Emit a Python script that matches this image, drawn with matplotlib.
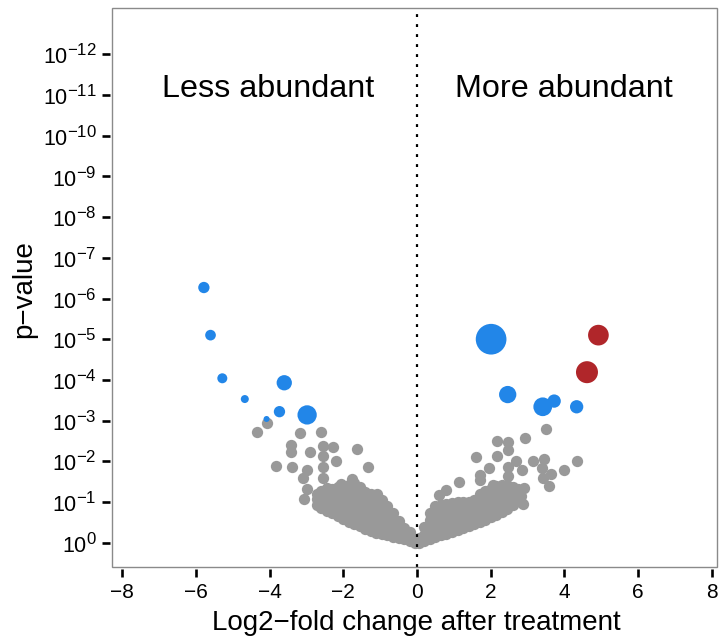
import numpy as np
import matplotlib
matplotlib.use("Agg")
import matplotlib.pyplot as plt
from matplotlib.patches import Rectangle
import matplotlib._mathtext as _mt

_mt.SHRINK_FACTOR = 0.78

plt.rcParams['font.family'] = ['Liberation Sans', 'DejaVu Sans']
plt.rcParams['mathtext.fontset'] = 'custom'
plt.rcParams['mathtext.rm'] = 'Liberation Sans'
plt.rcParams['mathtext.it'] = 'Liberation Sans:italic'
plt.rcParams['mathtext.bf'] = 'Liberation Sans:bold'
plt.rcParams['axes.unicode_minus'] = True

# ---------------- data ----------------
# -log10(p); log2 fold change on x
# dense core of non-significant genes, read column by column
left_core_lfc = [-0.05, -0.2, -0.35, -0.5, -0.65, -0.8, -0.95, -1.1, -1.25, -1.4,
                 -1.55, -1.7, -1.85, -2.0, -2.15, -2.3, -2.45, -2.6, -2.72]
left_core_nlp = [
    [0.0, 0.1],
    [0.05, 0.16, 0.26],
    [0.08, 0.22, 0.36],
    [0.12, 0.26, 0.40, 0.53],
    [0.15, 0.30, 0.45, 0.60, 0.72],
    [0.18, 0.33, 0.48, 0.63, 0.78, 0.91],
    [0.21, 0.36, 0.51, 0.66, 0.81, 0.96, 1.05],
    [0.25, 0.40, 0.55, 0.70, 0.85, 1.00, 1.14],
    [0.29, 0.44, 0.59, 0.74, 0.89, 1.04, 1.19],
    [0.34, 0.49, 0.64, 0.79, 0.94, 1.09, 1.24],
    [0.40, 0.55, 0.70, 0.85, 1.00, 1.15, 1.30],
    [0.46, 0.61, 0.76, 0.91, 1.06, 1.21, 1.36, 1.46],
    [0.52, 0.67, 0.82, 0.97, 1.12, 1.27, 1.42],
    [0.58, 0.73, 0.88, 1.03, 1.18, 1.33],
    [0.65, 0.80, 0.95, 1.10, 1.25, 1.38],
    [0.72, 0.87, 1.02, 1.17, 1.32],
    [0.79, 0.94, 1.09, 1.24, 1.34],
    [0.86, 1.01, 1.16, 1.28],
    [0.93, 1.07, 1.20],
]
right_core_lfc = [0.05, 0.2, 0.35, 0.5, 0.65, 0.8, 0.95, 1.1, 1.25, 1.4,
                  1.55, 1.7, 1.85, 2.0, 2.15, 2.3, 2.45, 2.6, 2.75]
right_core_nlp = [
    [0.0, 0.12],
    [0.05, 0.20, 0.38],
    [0.10, 0.25, 0.40, 0.55, 0.72],
    [0.14, 0.29, 0.44, 0.59, 0.74, 0.90],
    [0.18, 0.33, 0.48, 0.63, 0.78, 0.93],
    [0.22, 0.37, 0.52, 0.67, 0.82, 0.96],
    [0.26, 0.41, 0.56, 0.71, 0.86, 0.98],
    [0.31, 0.46, 0.61, 0.76, 0.91, 1.00],
    [0.36, 0.51, 0.66, 0.81, 0.96, 1.01],
    [0.41, 0.56, 0.71, 0.86, 1.00],
    [0.46, 0.61, 0.76, 0.91, 1.06],
    [0.51, 0.66, 0.81, 0.96, 1.11, 1.20],
    [0.57, 0.72, 0.87, 1.02, 1.17, 1.28],
    [0.63, 0.78, 0.93, 1.08, 1.23, 1.33],
    [0.69, 0.84, 0.99, 1.14, 1.29, 1.39],
    [0.76, 0.91, 1.06, 1.21, 1.36, 1.42],
    [0.84, 0.99, 1.14, 1.29, 1.41],
    [0.92, 1.07, 1.22, 1.37],
    [1.02, 1.17, 1.31],
]
# scattered non-significant genes
gray_out_lfc = [-4.08, -4.33, -3.16, -2.60, -3.43, -3.43, -2.91, -2.56, -2.28, -1.64,
                -2.56, -2.21, -3.82, -3.38, -2.98, -2.56, -2.56, -3.09, -1.32, -1.76,
                -2.06, -2.98, -3.06, -1.09, -1.54,
                3.49, 2.92, 2.17, 2.48, 2.48, 1.61, 2.17, 2.69, 3.14, 3.45,
                4.35, 1.95, 2.48, 2.84, 3.39, 4.00, 3.64, 1.70, 1.70, 2.48,
                3.41, 3.59, 1.14, 0.80, 0.60, 2.91, 2.83, 2.87, 2.06]
gray_out_nlp = [2.95, 2.72, 2.69, 2.72, 2.40, 2.24, 2.24, 2.37, 2.34, 2.30,
                2.13, 2.00, 1.89, 1.85, 1.79, 1.87, 1.59, 1.59, 1.85, 1.57,
                1.44, 1.33, 1.07, 1.20, 1.38,
                2.79, 2.58, 2.51, 2.47, 2.29, 2.10, 2.14, 2.00, 2.00, 2.05,
                2.02, 1.83, 1.87, 1.79, 1.83, 1.79, 1.69, 1.67, 1.55, 1.63,
                1.59, 1.40, 1.48, 1.30, 1.18, 1.34, 1.14, 0.96, 1.42]

# significant genes
blue_lfc = [-5.78, -5.60, -5.28, -4.67, -3.60, -3.73, -2.98, -4.08,
            2.01, 2.46, 3.41, 3.72, 4.33]
blue_nlp = [6.27, 5.10, 4.04, 3.53, 3.93, 3.22, 3.14, 3.04,
            5.00, 3.64, 3.34, 3.48, 3.34]
blue_count = [128, 114, 100, 64, 234, 128, 372, 36,
              942, 299, 350, 177, 177]
red_lfc = [4.92, 4.61]
red_nlp = [5.10, 4.19]
red_count = [428, 484]

yticks_exp = list(range(0, 13))
xticks = [-8, -6, -4, -2, 0, 2, 4, 6, 8]
label_left = "Less abundant"
label_right = "More abundant"

# ---------------- build ----------------
gray_x, gray_y = [], []
for x, col in zip(left_core_lfc, left_core_nlp):
    gray_x += [x] * len(col); gray_y += col
for x, col in zip(right_core_lfc, right_core_nlp):
    gray_x += [x] * len(col); gray_y += col
gray_x += gray_out_lfc; gray_y += gray_out_nlp
gray_x = np.array(gray_x); gray_p = 10.0 ** (-np.array(gray_y))

px2 = 0.72 ** 2  # pixel diameter^2 -> points^2 at 100 dpi

fig = plt.figure(figsize=(7.19, 6.41), dpi=100)
ax = fig.add_axes([111.7 / 719, 1 - 566.7 / 641, (717.5 - 111.7) / 719, (566.7 - 8.3) / 641])

ax.set_yscale('log')
ax.set_xlim(-8.28, 8.15)
ax.set_ylim(10 ** 0.589, 10 ** -13.13)

ax.scatter(gray_x, gray_p, s=11.3 ** 2 * px2, c='#999999', linewidths=0, zorder=3)
ax.scatter(blue_lfc, 10.0 ** (-np.array(blue_nlp)), s=np.array(blue_count) * px2,
           c='#2286E8', linewidths=0, zorder=4)
ax.scatter(red_lfc, 10.0 ** (-np.array(red_nlp)), s=np.array(red_count) * px2,
           c='#B0262A', linewidths=0, zorder=4)

ax.axvline(0, color='black', lw=1.6, linestyle=(0, (1.3, 3.2)), zorder=5)

ax.set_xticks(xticks)
ax.set_xticklabels([("\u2212%d" % -v) if v < 0 else "%d" % v for v in xticks])
ax.set_yticks([10.0 ** (-k) for k in yticks_exp])
ax.set_yticklabels([r"$10^{%s}$" % ("\u2212%d" % k if k > 0 else "0") for k in yticks_exp])
ax.minorticks_off()

for side in ['top', 'right', 'left', 'bottom']:
    ax.spines[side].set_visible(False)
ax.spines['left'].set_position(('outward', 1.5))
ax.spines['bottom'].set_position(('outward', 2.0))
ax.tick_params(axis='both', direction='out', length=5.8, width=1.9, color='black',
               labelcolor='black')
ax.tick_params(axis='x', pad=4, labelsize=15)
ax.tick_params(axis='y', pad=3.5, labelsize=15.5)
ax.add_patch(Rectangle((0, 0), 1, 1, transform=ax.transAxes, fill=False,
                       edgecolor='#8a8a8a', lw=1.0, clip_on=False, zorder=6))

ax.text(-4.03, 10 ** -10.94, label_left, ha='center', va='baseline', fontsize=23.3)
ax.text(3.99, 10 ** -10.94, label_right, ha='center', va='baseline', fontsize=23.3)

fig.text(416.5 / 719, 1 - 630 / 641, "Log2\u2212fold change after treatment",
         ha='center', va='baseline', fontsize=20)
fig.text(24 / 719, 1 - 289 / 641, "p\u2212value", rotation=90,
         ha='center', va='center', fontsize=20)

fig.savefig("out.png", dpi=100)
